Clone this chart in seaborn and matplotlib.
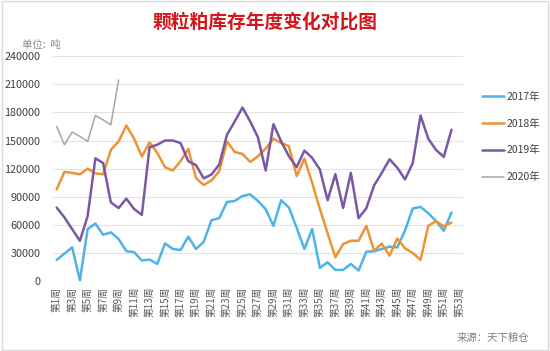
import numpy as np
import pandas as pd
import matplotlib
matplotlib.use("Agg")
import matplotlib.pyplot as plt
from matplotlib.patches import Rectangle
import seaborn as sns

# ---- 数据 (按图读数, 单位: 吨) ----
weeks_2017 = list(range(1, 53))
stock_2017 = [22700, 29400, 36000, 1000, 55500, 61500, 49500, 52000, 45000, 32000,
              31000, 22000, 23000, 18400, 40300, 34300, 33200, 47400, 34300, 42000,
              65000, 67200, 84500, 85500, 90800, 92600, 85500, 76700, 59000, 86300,
              78500, 57000, 34300, 55500, 14200, 20100, 12000, 12000, 18400, 11300,
              31500, 31800, 34300, 36800, 36000, 54000, 77500, 79200, 72500, 64000,
              53700, 73200]

weeks_2018 = list(range(1, 53))
stock_2018 = [98000, 116500, 115500, 114000, 120000, 115000, 114000, 140000, 149000, 166000,
              152000, 133000, 148000, 136700, 121500, 118000, 128000, 141000, 110000, 102500,
              107500, 117300, 149000, 137800, 135700, 127200, 133200, 141400, 152000, 147300,
              144000, 112000, 130800, 105000, 77000, 51000, 25400, 39600, 43100, 43100,
              59000, 32500, 40000, 27200, 45500, 35000, 30000, 22700, 59000, 64000,
              58500, 62600]

weeks_2019 = list(range(1, 53))
stock_2019 = [78500, 68000, 55500, 43000, 69500, 131000, 126000, 84000, 78000, 88000,
              77000, 70700, 142800, 145600, 150000, 150000, 147300, 128000, 123700, 109600,
              113800, 124400, 156200, 170300, 185200, 170300, 153400, 118000, 167500, 149000,
              133200, 121600, 139300, 131500, 119100, 86300, 114100, 78100, 115500, 67200,
              77800, 102000, 115600, 130000, 121000, 108500, 126000, 176700, 152000, 140000,
              132500, 161500]

weeks_2020 = list(range(1, 10))
stock_2020 = [165000, 145600, 159000, 154500, 149000, 176700, 172000, 166800, 214500]

series = [("2017年", weeks_2017, stock_2017),
          ("2018年", weeks_2018, stock_2018),
          ("2019年", weeks_2019, stock_2019),
          ("2020年", weeks_2020, stock_2020)]

tick_weeks = list(range(1, 54, 2))
tick_labels = [f"第{w}周" for w in tick_weeks]
y_ticks = list(range(0, 240001, 30000))

colors = {"2017年": "#4db3ea", "2018年": "#ee9334", "2019年": "#7a58a6", "2020年": "#a5a5a5"}
widths = {"2017年": 1.8, "2018年": 1.8, "2019年": 1.8, "2020年": 1.1}

# ---- 画图 ----
sns.set_style("white")
plt.rcParams['font.family'] = ['Noto Sans CJK SC', 'DejaVu Sans']

fig = plt.figure(figsize=(5.5, 3.51), dpi=100)
ax = fig.add_axes([0.096, 0.199, 0.746, 0.641])

for name, wk, val in series:
    df = pd.DataFrame({"周": wk, "库存": val})
    sns.lineplot(data=df, x="周", y="库存", ax=ax, color=colors[name],
                 linewidth=widths[name], label=name, clip_on=False)

ax.set_xlim(0.5, 53.5)
ax.set_ylim(0, 240000)
ax.set_yticks(y_ticks)
ax.set_yticklabels([str(v) for v in y_ticks], fontsize=7.8, color="#404040")
ax.set_xticks(tick_weeks)
ax.set_xticklabels(tick_labels, rotation=90, fontsize=7, color="#595959")
ax.tick_params(axis="x", length=0, pad=4)
ax.tick_params(axis="y", length=0, pad=9)
ax.set_xlabel("")
ax.set_ylabel("")
ax.grid(axis="y", color="#e3e3e3", linewidth=0.8)
ax.set_axisbelow(True)
for s in ax.spines.values():
    s.set_visible(False)

leg = ax.legend(loc="upper left", bbox_to_anchor=(0.86, 0.765),
                bbox_transform=fig.transFigure, frameon=False, fontsize=7.5,
                handlelength=2.1, handletextpad=0.2, labelspacing=1.6)
for t in leg.get_texts():
    t.set_color("#404040")

fig.text(0.482, 0.937, "颗粒粕库存年度变化对比图", ha="center", va="center",
         fontsize=13.5, fontweight="bold", color="#d4161c")
fig.text(0.04, 0.872, "单位:  吨", ha="left", va="center", fontsize=7.5, color="#8c8c8c")
fig.text(0.962, 0.037, "来源：天下粮仓", ha="right", va="center", fontsize=7.5,
         color="#7f7f7f", style="italic")

fig.patches.append(Rectangle((0.003, 0.004), 0.994, 0.992, transform=fig.transFigure,
                             fill=False, edgecolor="#d9d9d9", linewidth=1))

fig.savefig("out.png", dpi=100)
